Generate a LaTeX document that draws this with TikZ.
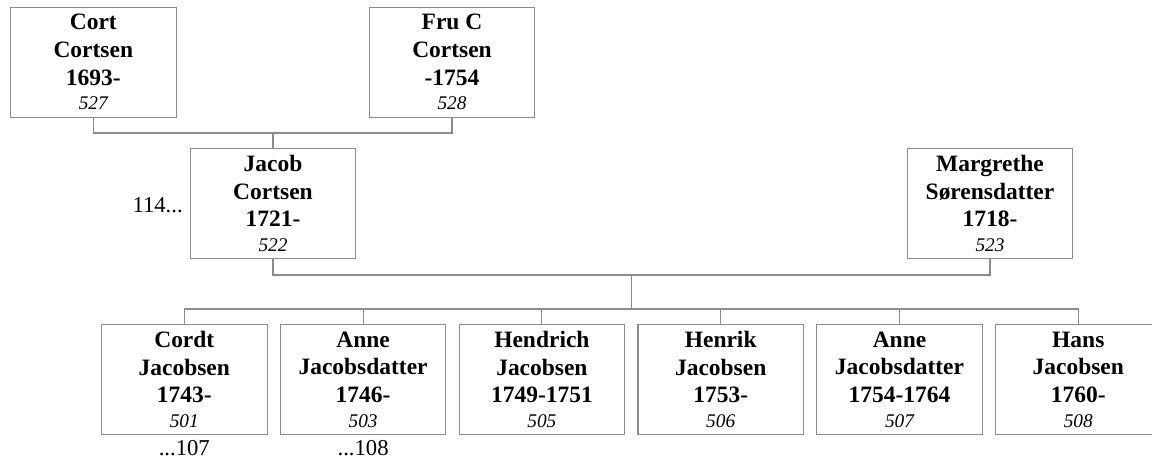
\documentclass[tikz,border=0pt]{standalone}
\usepackage{fontspec}
\setmainfont{Liberation Serif}
\definecolor{boxgray}{RGB}{140,140,140}
\definecolor{linegray}{RGB}{140,140,140}
\newcommand{\itnum}{\normalfont\itshape\fontsize{14.5}{16}\selectfont}
\newcommand{\person}[4]{#1\\#2\\#3\\[-2.3pt]{\itnum #4}}
\tikzset{
  personbox/.style={draw=boxgray, line width=0.8pt, minimum width=124.1pt, minimum height=82.5pt,
    inner sep=0pt, align=center, font=\bfseries\fontsize{17.6}{20.8}\selectfont},
  conn/.style={draw=linegray, line width=0.8pt},
  sidelabel/.style={inner sep=0pt, font=\fontsize{17}{20}\selectfont}
}
\begin{document}
\begin{tikzpicture}[x=0.75pt,y=-0.75pt]
\useasboundingbox (0,0) rectangle (1152,461);
% parents of Jacob
\node[personbox] (cort) at (93.3,62.2) {\person{Cort}{Cortsen}{1693-}{527}};
\node[personbox] (fru) at (452,62.2) {\person{Fru C}{Cortsen}{-1754}{528}};
% couple
\node[personbox] (jacob) at (273,203.5) {\person{Jacob}{Cortsen}{1721-}{522}};
\node[personbox] (marg) at (990,203.5) {\person{Margrethe}{Sørensdatter}{1718-}{523}};
% children
\node[personbox] (c1) at (184.3,379.5) {\person{Cordt}{Jacobsen}{1743-}{501}};
\node[personbox] (c2) at (363.1,379.5) {\person{Anne}{Jacobsdatter}{1746-}{503}};
\node[personbox] (c3) at (541.9,379.5) {\person{Hendrich}{Jacobsen}{1749-1751}{505}};
\node[personbox] (c4) at (720.7,379.5) {\person{Henrik}{Jacobsen}{1753-}{506}};
\node[personbox] (c5) at (899.5,379.5) {\person{Anne}{Jacobsdatter}{1754-1764}{507}};
\node[personbox] (c6) at (1078.3,379.5) {\person{Hans}{Jacobsen}{1760-}{508}};
% side labels
\node[sidelabel, anchor=east] (l114) at (183,205) {114...};
\node[sidelabel, anchor=north] (l107) at (184.3,440) {...107};
\node[sidelabel, anchor=north] (l108) at (363.1,440) {...108};
% connectors
\coordinate (p1) at (273,133);
\coordinate (p2) at (631.5,275);
\coordinate (p3) at (631.5,309);
\draw[conn] (cort.south) |- (p1) -| (fru.south);
\draw[conn] (p1) -- (jacob.north);
\draw[conn] (jacob.south) |- (p2) -| (marg.south);
\draw[conn] (p2) -- (p3);
\foreach \c in {c1,c2,c3,c4,c5,c6} {\draw[conn] (p3) -| (\c.north);}
\end{tikzpicture}
\end{document}
